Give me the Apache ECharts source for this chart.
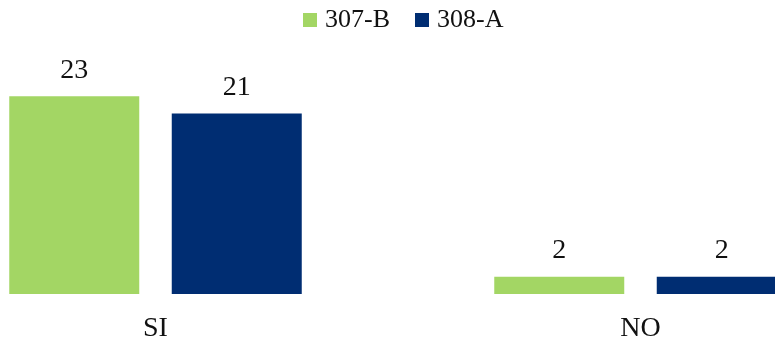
<!DOCTYPE html>
<html>
<head>
<meta charset="utf-8">
<script src="https://cdn.jsdelivr.net/npm/echarts@6/dist/echarts.min.js"></script>
<style>
	html, body { margin: 0; padding: 0; background: #ffffff; overflow: hidden; }
	#wrap { width: 775px; height: 341px; overflow: hidden; position: relative; }
	#chart { width: 970px; height: 341px; position: absolute; left: -87px; top: 0; }
</style>
</head>
<body>
<div id="wrap"><div id="chart"></div></div>
<script>
var categories = ["SI", "NO"];
var seriesNames = ["307-B", "308-A"];
var values307B = [23, 2];
var values308A = [21, 2];

var labelFont = "Liberation Serif";

window.onload = function() {
	var myChart = echarts.init(document.getElementById('chart'), null, { renderer: 'canvas' });
	var valueLabel = {
		show : true,
		position : 'top',
		distance : 12,
		fontFamily : labelFont,
		fontSize : 28,
		color : "#111111"
	};
	myChart.setOption({
		animation : false,
		color : [ "#a3d664", "#002d72" ],
		legend : {
			data : seriesNames,
			top : 2,
			left : 385,
			itemWidth : 14,
			itemHeight : 14,
			itemGap : 25,
			icon : 'rect',
			textStyle : {
				fontFamily : labelFont,
				fontSize : 26,
				color : "#111111",
				padding : [ 0, 0, 0, 3 ]
			}
		},
		grid : {
			left : 0,
			right : 0,
			top : 79,
			bottom : 47,
			outerBoundsMode : 'none',
			containLabel : false
		},
		xAxis : [ {
			type : 'category',
			data : categories,
			axisLine : { show : false },
			axisTick : { show : false },
			axisLabel : {
				margin : 21,
				fontFamily : labelFont,
				fontSize : 28,
				color : "#111111"
			}
		} ],
		yAxis : [ {
			type : 'value',
			min : 0,
			max : 25,
			show : false,
			splitLine : { show : false }
		} ],
		series : [ {
			name : seriesNames[0],
			type : 'bar',
			barWidth : 130,
			barGap : '25%',
			data : values307B,
			label : valueLabel
		}, {
			name : seriesNames[1],
			type : 'bar',
			barWidth : 130,
			barGap : '25%',
			data : values308A,
			label : valueLabel
		} ]
	});
};
</script>
</body>
</html>
